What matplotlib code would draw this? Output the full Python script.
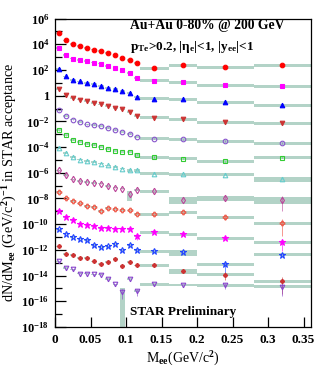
import numpy as np
import matplotlib
matplotlib.use("Agg")
import matplotlib.pyplot as plt
from matplotlib.ticker import FixedLocator, FixedFormatter, NullFormatter

plt.rcParams['font.family'] = 'Liberation Serif'
plt.rcParams['font.weight'] = 'bold'
plt.rcParams['mathtext.fontset'] = 'custom'
plt.rcParams['mathtext.rm'] = 'Liberation Serif:bold'
plt.rcParams['mathtext.it'] = 'Liberation Serif:bold:italic'
plt.rcParams['mathtext.bf'] = 'Liberation Serif:bold'

# bin centres and half widths (GeV/c^2)
mee = [0.005, 0.015, 0.025, 0.035, 0.045, 0.055, 0.065, 0.075, 0.085, 0.095,
       0.105, 0.115, 0.14, 0.18, 0.24, 0.32]
half_width = [0.005] * 12 + [0.02, 0.02, 0.04, 0.04]

# log10 of dN/dMee for each centrality class (scaled for display)
red_circle = [4.91, 4.31, 4.05, 3.87, 3.74, 3.59, 3.46, 3.35, 3.20, 2.96, 2.76, 2.55, 2.16, 2.37, 2.21, 2.39]
magenta_square = [3.72, 3.15, 2.89, 2.76, 2.68, 2.58, 2.50, 2.32, 2.16, 2.03, 1.77, 1.38, 1.18, 1.05, 0.81, 0.76]
blue_triangle = [2.06, 1.51, 1.25, 1.12, 0.99, 0.89, 0.76, 0.63, 0.53, 0.37, 0.22, -0.10, -0.23, -0.28, -0.49, -0.74]
darkred_triangle = [0.55, 0.03, -0.17, -0.30, -0.43, -0.56, -0.67, -0.82, -0.93, -1.06, -1.26, -1.60, -1.71, -1.83, -2.08, -2.15]
purple_circle = [-1.14, -1.58, -1.86, -2.04, -2.23, -2.25, -2.36, -2.49, -2.64, -2.82, -2.95, -3.21, -3.34, -3.39, -3.52, -3.68]
green_square = [-2.69, -3.08, -3.42, -3.60, -3.73, -3.81, -3.99, -4.12, -4.30, -4.38, -4.38, -4.58, -4.77, -4.90, -5.10, -4.82]
cyan_triangle = [-4.05, -4.46, -4.77, -4.97, -5.08, -5.16, -5.28, -5.42, -5.55, -5.67, -5.81, -5.81, -6.06, -6.12, -6.14, -6.45]
pink_diamond = [-5.81, -6.19, -6.51, -6.66, -6.72, -6.79, -6.84, -7.05, -7.15, -7.23, -7.68, -7.31, -7.42, -8.09, -7.93, -8.09]
red_cross = [-7.49, -8.00, -8.20, -8.38, -8.58, -8.66, -8.97, -8.76, -8.83, -8.90, -8.93, -9.18, -9.24, -9.09, -9.44, -9.91]
magenta_star = [-8.97, -9.44, -9.70, -9.95, -10.03, -10.14, -10.30, -10.30, -10.34, -10.34, -10.40, -10.92, -10.60, -10.76, -11.08, -11.38]
blue_star = [-10.40, -10.73, -11.00, -11.12, -11.20, -11.64, -11.77, -11.72, -11.54, -12.03, -11.64, -11.98, -12.09, -12.18, -13.10, -12.36]
red_asterisk = [-11.72, -12.29, -12.37, -12.60, -12.63, -12.89, -13.07, -12.94, -12.68, -13.25, -12.94, -13.20, -13.20, -13.64, -13.92, -14.42]
purple_triangle = [-12.89, -13.40, -13.51, -13.84, -13.84, -13.90, -13.92, -14.27, -14.69, -15.30, -14.27, -15.22, -14.69, -14.72, -14.76, -14.86]

# relative systematic (boxes) and statistical (bars) uncertainties
sys_default = [0.15] * 12 + [0.25] * 4
stat_default = [0.06] * 12 + [0.1] * 4
sys_override = {
    ('pink_diamond', 10): 0.68, ('pink_diamond', 13): 0.54, ('pink_diamond', 14): 0.42,
    ('pink_diamond', 15): 0.54, ('cyan_triangle', 15): 0.42, ('cyan_triangle', 10): 0.3,
    ('cyan_triangle', 11): 0.3, ('green_square', 11): 0.3, ('blue_star', 13): 0.47,
    ('red_asterisk', 13): 0.42, ('purple_triangle', 9): 1.0,
}
stat_override = {
    ('pink_diamond', 15): 0.87, ('pink_diamond', 14): 0.4, ('red_cross', 15): 0.9,
    ('red_cross', 14): 0.4, ('magenta_star', 15): 0.8, ('magenta_star', 11): 0.5,
    ('blue_star', 14): 0.8, ('red_asterisk', 15): 0.9, ('red_asterisk', 14): 0.6,
    ('purple_triangle', 15): 0.8, ('purple_triangle', 14): 0.5,
    ('purple_triangle', 11): 0.6, ('purple_triangle', 9): 0.7,
}

series = [
    ('red_circle', red_circle, '#ff0000', 'o', True),
    ('magenta_square', magenta_square, '#ff00ff', 's', True),
    ('blue_triangle', blue_triangle, '#0000ff', '^', True),
    ('darkred_triangle', darkred_triangle, '#cc3333', 'v', True),
    ('purple_circle', purple_circle, '#8855cc', 'o', False),
    ('green_square', green_square, '#33cc33', 's', False),
    ('cyan_triangle', cyan_triangle, '#66cccc', '^', False),
    ('pink_diamond', pink_diamond, '#bb4499', 'd', False),
    ('red_cross', red_cross, '#ee5544', 'P', False),
    ('magenta_star', magenta_star, '#ff00ff', '*', True),
    ('blue_star', blue_star, '#2244ff', '*', False),
    ('red_asterisk', red_asterisk, '#cc3333', (8, 2, 0), True),
    ('purple_triangle', purple_triangle, '#8844cc', 'v', False),
]

band = '#b3d3c7'
ymin, ymax = 1e-18, 1e6

fig = plt.figure(figsize=(3.27, 3.85), dpi=100)
ax = fig.add_axes([0.1682, 0.1507, 0.782, 0.801])
ax.set_yscale('log')

x = np.array(mee)
hw = np.array(half_width)
box_hw = np.where(hw > 0.006, hw, 0.004)

for name, vals, color, marker, filled in series:
    y = 10.0 ** np.array(vals)
    s = np.array([sys_override.get((name, i), sys_default[i]) for i in range(len(y))])
    e = np.array([stat_override.get((name, i), stat_default[i]) for i in range(len(y))])
    lo = np.maximum(y * (1 - s), ymin * 0.5)
    hi = y * (1 + s)
    ax.bar(x, hi - lo, bottom=lo, width=2 * box_hw, color=band, edgecolor='none',
           zorder=1)
    elo = np.minimum(y * e, y - ymin * 0.5)
    ax.errorbar(x, y, yerr=[elo, y * e], fmt='none', ecolor=color, elinewidth=0.6,
                alpha=0.7, zorder=2)
    ms = 4.6 if marker == '*' else 3.3
    ax.plot(x, y, linestyle='none', marker=marker, color=color, markersize=ms,
            markerfacecolor=color if filled else 'none', markeredgewidth=0.8, zorder=3)

ax.set_xlim(0, 0.36)
ax.set_ylim(ymin, ymax)

major_exp = list(range(-18, 7, 2))
major_labels = ['1' if p == 0 else r'$10^{%d}$' % p for p in major_exp]
ax.yaxis.set_major_locator(FixedLocator([10.0 ** p for p in major_exp]))
ax.yaxis.set_major_formatter(FixedFormatter(major_labels))
ax.yaxis.set_minor_locator(FixedLocator([10.0 ** p for p in range(-17, 6, 2)]))
ax.yaxis.set_minor_formatter(NullFormatter())

xticks = [0, 0.05, 0.1, 0.15, 0.2, 0.25, 0.3, 0.35]
ax.set_xticks(xticks)
ax.set_xticklabels(['0', '0.05', '0.1', '0.15', '0.2', '0.25', '0.3', '0.35'])

ax.tick_params(axis='y', which='major', direction='in', length=8, width=0.9,
               labelsize=9, pad=4)
ax.tick_params(axis='y', which='minor', direction='in', length=5, width=0.9)
ax.tick_params(axis='x', which='major', direction='in', length=7, width=0.9,
               labelsize=9.5, pad=5)
for sp in ax.spines.values():
    sp.set_linewidth(0.9)

ax.set_xlabel(r'M$_{\mathrm{ee}}$(GeV/c$^{2}$)', fontsize=10, labelpad=3)
ax.set_ylabel(r'dN/dM$_{\mathrm{ee}}$ (GeV/c$^{2}$)$^{-1}$ in STAR acceptance',
              fontsize=10.3)
ax.yaxis.set_label_coords(-0.14, 0.47)

ax.text(0.293, 0.978, 'Au+Au 0-80% @ 200 GeV', transform=ax.transAxes,
        fontsize=9.8, va='center', ha='left')
ax.text(0.293, 0.907, r'p$_{\mathrm{Te}}$>0.2, |η$_{\mathrm{e}}$|<1, |y$_{\mathrm{ee}}$|<1',
        transform=ax.transAxes, fontsize=9.5, va='center', ha='left')
ax.text(0.293, 0.0486, 'STAR Preliminary', transform=ax.transAxes,
        fontsize=9.5, va='center', ha='left')

fig.savefig('out.png', dpi=100)
